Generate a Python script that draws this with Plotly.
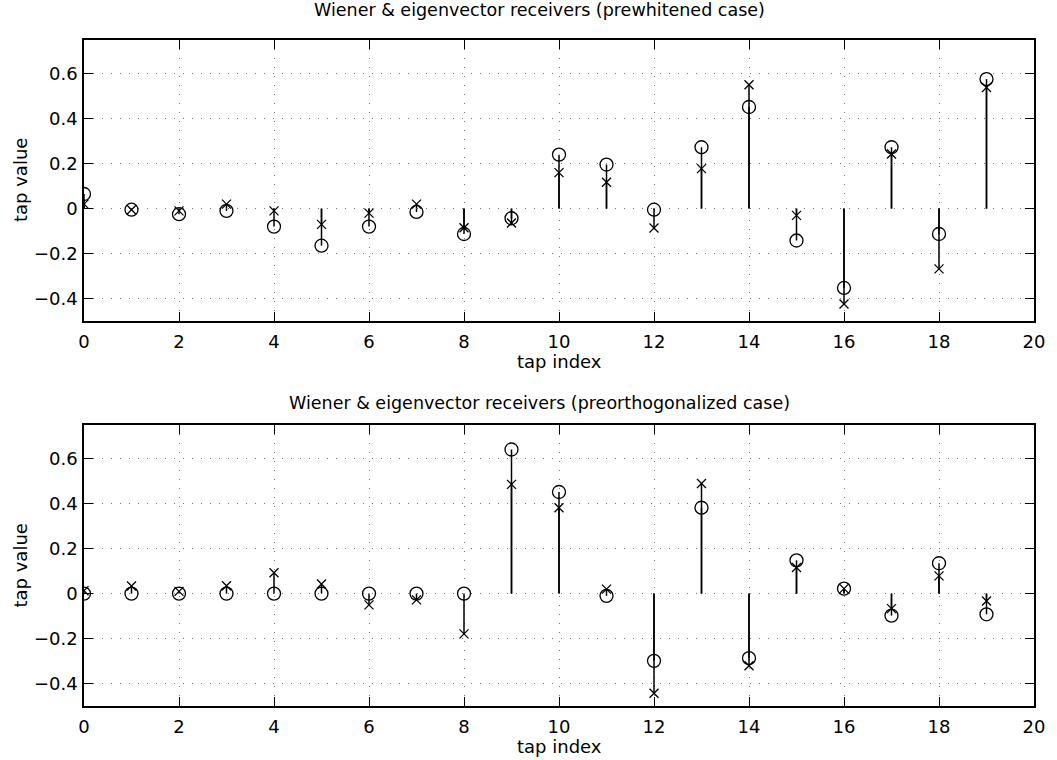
import plotly.graph_objects as go

# ---- data ----
tap_index = list(range(20))

# prewhitened case
pw_circle = [0.065, -0.005, -0.025, -0.01, -0.08, -0.165, -0.08, -0.015, -0.113, -0.043,
             0.24, 0.196, -0.005, 0.273, 0.452, -0.142, -0.353, 0.273, -0.113, 0.576]
pw_cross = [0.02, -0.005, -0.01, 0.02, -0.01, -0.07, -0.02, 0.02, -0.085, -0.064,
            0.16, 0.117, -0.086, 0.178, 0.551, -0.03, -0.424, 0.243, -0.268, 0.539]

# preorthogonalized case
po_circle = [0.0, 0.0, 0.0, 0.0, 0.0, 0.0, 0.0, 0.0, 0.0, 0.641,
             0.452, -0.01, -0.299, 0.382, -0.287, 0.148, 0.022, -0.098, 0.135, -0.092]
po_cross = [0.013, 0.034, 0.01, 0.035, 0.093, 0.043, -0.05, -0.028, -0.179, 0.486,
            0.382, 0.02, -0.443, 0.49, -0.321, 0.116, 0.022, -0.067, 0.079, -0.033]

titles = ["Wiener & eigenvector receivers (prewhitened case)",
          "Wiener & eigenvector receivers (preorthogonalized case)"]
x_label = "tap index"
y_label = "tap value"
x_ticks = list(range(0, 21, 2))
y_ticks = [-0.4, -0.2, 0, 0.2, 0.4, 0.6]

FONT = "DejaVu Sans"
FS = 18
FS_TITLE = 17.5

fig = go.Figure()


def stems(xs, ys):
    sx, sy = [], []
    for x, y in zip(xs, ys):
        sx += [x, x, None]
        sy += [0, y, None]
    return sx, sy


panels = [(pw_circle, pw_cross, "x", "y"), (po_circle, po_cross, "x2", "y2")]
for circ, cross, xa, ya in panels:
    for vals in (circ, cross):
        sx, sy = stems(tap_index, vals)
        fig.add_trace(go.Scatter(x=sx, y=sy, mode="lines", xaxis=xa, yaxis=ya,
                                 line=dict(color="black", width=1.5),
                                 showlegend=False, hoverinfo="skip"))
    fig.add_trace(go.Scatter(x=tap_index, y=circ, mode="markers", xaxis=xa, yaxis=ya,
                             marker=dict(symbol="circle-open", size=13,
                                         color="black", line=dict(width=1.3)),
                             showlegend=False))
    fig.add_trace(go.Scatter(x=tap_index, y=cross, mode="markers", xaxis=xa, yaxis=ya,
                             marker=dict(symbol="x-thin-open", size=9,
                                         color="black", line=dict(width=1.3, color="black")),
                             showlegend=False))

axis_common = dict(showline=True, linecolor="black", linewidth=1.5, mirror="ticks",
                   ticks="inside", ticklen=9, tickcolor="black", tickwidth=1,
                   showgrid=True, gridcolor="#777777", gridwidth=1, griddash="1px,8px",
                   zeroline=False, tickfont=dict(family=FONT, size=FS, color="black"))

top_dom = [(706 - 321) / 666, 1.0]
bot_dom = [0.0, (706 - 425) / 666]

fig.update_layout(
    width=1057, height=760,
    margin=dict(l=84, r=15, t=40, b=54),
    paper_bgcolor="white", plot_bgcolor="white",
    font=dict(family=FONT, size=FS, color="black"),
    xaxis=dict(domain=[0, 1], anchor="y", range=[0, 20], tickvals=x_ticks,
               ticklabelstandoff=4, **axis_common),
    yaxis=dict(domain=top_dom, anchor="x", range=[-0.5, 0.75], tickvals=y_ticks,
               ticklabelstandoff=1, **axis_common),
    xaxis2=dict(domain=[0, 1], anchor="y2", range=[0, 20], tickvals=x_ticks,
                ticklabelstandoff=4, **axis_common),
    yaxis2=dict(domain=bot_dom, anchor="x2", range=[-0.5, 0.75], tickvals=y_ticks,
                ticklabelstandoff=1, **axis_common),
)

H = 666.0
W = 958.0


def py(pix):
    return (706 - pix) / H


def px(pix):
    return (pix - 84) / W


ann = []
ann.append(dict(text=titles[0], x=px(543), y=py(10), xref="paper", yref="paper",
                xanchor="center", yanchor="middle", showarrow=False,
                font=dict(size=FS_TITLE)))
ann.append(dict(text=titles[1], x=px(543), y=py(403), xref="paper", yref="paper",
                xanchor="center", yanchor="middle", showarrow=False,
                font=dict(size=FS_TITLE)))
ann.append(dict(text=x_label, x=0.5, y=py(361), xref="paper", yref="paper",
                xanchor="center", yanchor="middle", showarrow=False))
ann.append(dict(text=x_label, x=0.5, y=py(746), xref="paper", yref="paper",
                xanchor="center", yanchor="middle", showarrow=False))
ann.append(dict(text=y_label, x=px(19.5), y=py(180), xref="paper", yref="paper",
                xanchor="center", yanchor="middle", textangle=-90, showarrow=False))
ann.append(dict(text=y_label, x=px(19.5), y=py(565.5), xref="paper", yref="paper",
                xanchor="center", yanchor="middle", textangle=-90, showarrow=False))
fig.update_layout(annotations=ann)

# remove the default 8px page margin so the figure sits at the window's top-left
fig.write_html("out.html",
               config={"displayModeBar": False},
               post_script="document.body.style.margin='0px';document.body.style.padding='0px';")
